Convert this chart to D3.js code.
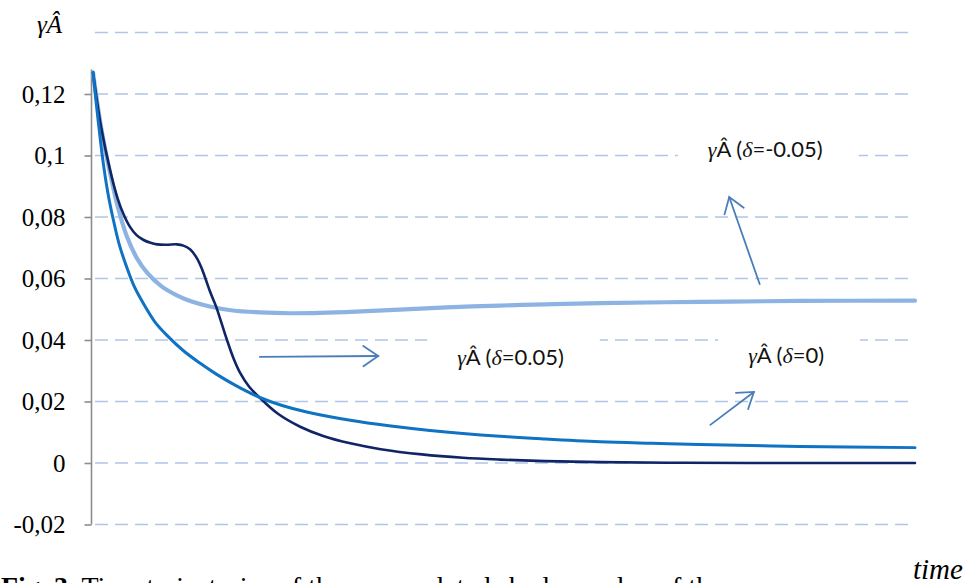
<!DOCTYPE html>
<html>
<head>
<meta charset="utf-8">
<script src="https://cdn.jsdelivr.net/npm/d3@7"></script>
<style>
  html, body { margin: 0; padding: 0; background: #ffffff; overflow: hidden; }
  svg { display: block; }
</style>
</head>
<body>
<svg id="chart" width="970" height="583"></svg>
<script>
// γÂ trajectories over time for three values of δ
const tNeg = [0, 1, 2.1, 3, 4.1, 5.3, 6.6, 8.3, 10.2, 12, 14.2, 17, 20.3, 24, 27.6, 32, 37.3, 43, 49.5, 55, 61.7, 73.8, 86, 100];
const vNeg = [0.127, 0.109, 0.094, 0.0835, 0.0738, 0.0668, 0.0618, 0.0575, 0.0545, 0.0525, 0.0509, 0.0496, 0.0490, 0.0487, 0.0488, 0.0492, 0.0499, 0.0506, 0.0512, 0.0516, 0.0520, 0.0524, 0.0527, 0.0528];

const tZero = [0, 0.6, 1.2, 1.8, 2.4, 3.2, 4.1, 5, 6.1, 7.5, 9, 11, 13, 15, 17.5, 20.3, 23, 26, 31.3, 36, 41, 49.5, 55, 61.7, 68, 73.8, 86, 100];
const vZero = [0.127, 0.112, 0.0985, 0.088, 0.080, 0.071, 0.0637, 0.0575, 0.052, 0.046, 0.0415, 0.0365, 0.0325, 0.0289, 0.0250, 0.0213, 0.0187, 0.0166, 0.0139, 0.0121, 0.0106, 0.0087, 0.0078, 0.0069, 0.0064, 0.0060, 0.0054, 0.0050];

const tPos = [0, 1, 2.1, 3, 3.7, 4.5, 5.3, 6.1, 7, 7.8, 9, 10.2, 11, 11.8, 12.6, 13.3, 14.2, 15, 15.6, 16.3, 17.1, 17.9, 19, 20.3, 22.5, 25.2, 28, 31.3, 35, 40, 45, 49.5, 55, 61.7, 70, 80, 100];
const vPos = [0.127, 0.109, 0.095, 0.086, 0.081, 0.0768, 0.0741, 0.0726, 0.0716, 0.0711, 0.0710, 0.0711, 0.0707, 0.0695, 0.0668, 0.0628, 0.0560, 0.0507, 0.0458, 0.0400, 0.0340, 0.0293, 0.0248, 0.0212, 0.0160, 0.0118, 0.0088, 0.0064, 0.0045, 0.0028, 0.0017, 0.0011, 0.0006, 0.0003, 0.0001, 0.0, 0.0];

// y-axis ticks and their printed labels
const yTicks = [-0.02, 0, 0.02, 0.04, 0.06, 0.08, 0.1, 0.12];
const yTickLabels = ["-0,02", "0", "0,02", "0,04", "0,06", "0,08", "0,1", "0,12"];
const gridValues = [-0.02, 0, 0.02, 0.04, 0.06, 0.08, 0.1, 0.12, 0.14];

// series labels (the symbols are set in italic serif)
const seriesLabels = [
  { delta: "-0.05", at: [74.8, 0.0995] },
  { delta: "0.05",  at: [44.3, 0.0318] },
  { delta: "0",     at: [79.7, 0.0325] }
];
// arrows linking curves and labels (from → to, in data units)
const arrows = [
  { from: [81.1, 0.0582], to: [77.4, 0.0865] },
  { from: [20.3, 0.0345], to: [34.7, 0.0348] },
  { from: [75.1, 0.0124], to: [80.4, 0.0231] }
];

const svg = d3.select("#chart");
const x = d3.scaleLinear().domain([0, 100]).range([93, 915]);
const y = d3.scaleLinear().domain([-0.02, 0.14]).range([524.5, 32.5]);

// dashed horizontal gridlines
svg.append("g").selectAll("line").data(gridValues).join("line")
  .attr("x1", x(0)).attr("x2", x(100))
  .attr("y1", d => y(d)).attr("y2", d => y(d))
  .attr("stroke", "#b0c5e8").attr("stroke-width", 1.6)
  .attr("stroke-dasharray", "13,7").attr("stroke-dashoffset", -2);

// y axis
const yAxis = d3.axisLeft(y).tickValues(yTicks)
  .tickFormat(d => yTickLabels[yTicks.indexOf(d)])
  .tickSize(7).tickPadding(19);
const ag = svg.append("g").attr("transform", `translate(${x(0) - 1.5},0)`).call(yAxis);
ag.select(".domain").remove();
ag.append("line").attr("x1", 0).attr("x2", 0)
  .attr("y1", y(-0.02)).attr("y2", y(0.128))
  .attr("stroke", "#8c8c8c").attr("stroke-width", 1.6);
ag.selectAll(".tick line").attr("stroke", "#8c8c8c").attr("stroke-width", 1.6);
ag.selectAll(".tick text")
  .attr("font-family", "'Liberation Serif', 'Times New Roman', serif")
  .attr("font-size", 25).attr("fill", "#000");

// axis titles
svg.append("text").attr("x", 37).attr("y", 33)
  .attr("font-family", "'Liberation Serif', serif").attr("font-style", "italic")
  .attr("font-size", 25).attr("fill", "#000").text("γÂ");
svg.append("text").attr("x", 913).attr("y", 579)
  .attr("font-family", "'Liberation Serif', serif").attr("font-style", "italic")
  .attr("font-size", 29).attr("fill", "#000").text("time");

// curves
const line = d3.line().x(d => x(d[0])).y(d => y(d[1])).curve(d3.curveCatmullRom.alpha(0.5));
const series = [
  { t: tNeg, v: vNeg, color: "#8db3e2", width: 4.2 },
  { t: tPos, v: vPos, color: "#0f2566", width: 2.6 },
  { t: tZero, v: vZero, color: "#0f72c2", width: 3.0 }
];
svg.append("g").selectAll("path").data(series).join("path")
  .attr("d", s => line(s.t.map((t, i) => [t, s.v[i]])))
  .attr("fill", "none").attr("stroke", s => s.color)
  .attr("stroke-width", s => s.width).attr("stroke-linejoin", "round").attr("stroke-linecap", "round");

// series labels on white boxes
const lg = svg.append("g");
seriesLabels.forEach(l => {
  const g = lg.append("g");
  const box = g.append("rect").attr("fill", "#ffffff");
  const txt = g.append("text").attr("x", x(l.at[0])).attr("y", y(l.at[1]))
    .attr("font-family", "Lato, 'Noto Sans', sans-serif").attr("font-size", 22).attr("fill", "#111");
  txt.append("tspan").attr("font-family", "'Liberation Serif', serif").attr("font-style", "italic").text("γ");
  txt.append("tspan").text("Â (");
  txt.append("tspan").attr("font-family", "'Liberation Serif', serif").attr("font-style", "italic").text("δ");
  txt.append("tspan").text("=" + l.delta + ")");
  const bb = txt.node().getBBox();
  box.attr("x", bb.x - 30).attr("y", bb.y - 6).attr("width", bb.width + 66).attr("height", bb.height + 12);
});

// arrows with open heads
const ar = svg.append("g").attr("stroke", "#4a7ebb").attr("stroke-width", 1.8).attr("fill", "none")
  .attr("stroke-linecap", "round");
arrows.forEach(a => {
  const x1 = x(a.from[0]), y1 = y(a.from[1]), x2 = x(a.to[0]), y2 = y(a.to[1]);
  ar.append("line").attr("x1", x1).attr("y1", y1).attr("x2", x2).attr("y2", y2);
  const ang = Math.atan2(y2 - y1, x2 - x1), L = 18, w = 0.6;
  const p1 = [x2 - L * Math.cos(ang - w), y2 - L * Math.sin(ang - w)];
  const p2 = [x2 - L * Math.cos(ang + w), y2 - L * Math.sin(ang + w)];
  ar.append("path").attr("d", `M${p1[0]},${p1[1]}L${x2},${y2}L${p2[0]},${p2[1]}`);
});

// figure caption (runs past the bottom edge)
const cap = svg.append("text").attr("x", 1).attr("y", 596)
  .attr("font-family", "'Liberation Serif', 'Times New Roman', serif")
  .attr("font-size", 28).attr("fill", "#000");
cap.append("tspan").attr("font-weight", "bold").text("Fig. 3.");
cap.append("tspan").text(" Time trajectories of the accumulated shadow value of the resource");
</script>
</body>
</html>
